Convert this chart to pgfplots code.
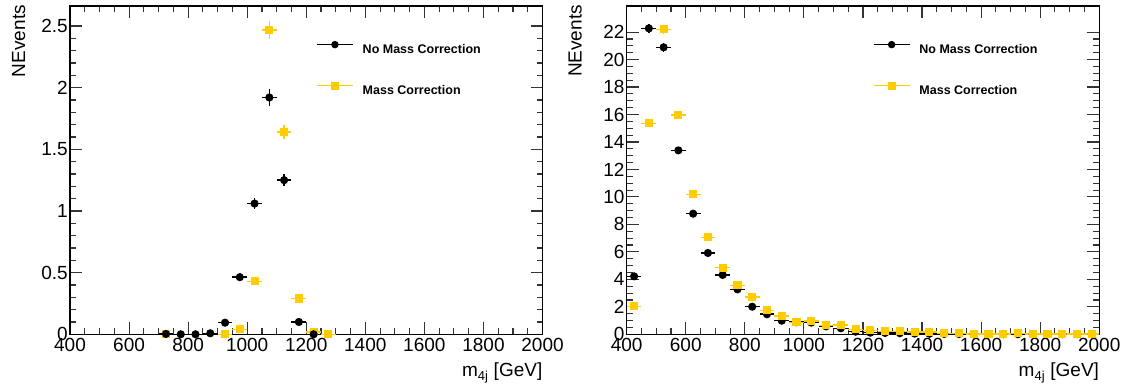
\documentclass[border=0pt]{standalone}
\usepackage{fontspec}
\setmainfont{Liberation Sans}
\usepackage{pgfplots}
\usepackage{pgfplotstable}
\pgfplotsset{compat=1.18}
\definecolor{rootyellow}{RGB}{255,204,0}

\pgfplotstableread{
x y ex ey
725 0.003 25 0.003
775 0.0 25 0.0
825 0.0 25 0.0
875 0.008 25 0.006
925 0.094 25 0.015
975 0.463 25 0.03
1025 1.06 25 0.045
1075 1.92 25 0.065
1125 1.25 25 0.05
1175 0.10 25 0.015
1225 0.0 25 0.0
}\leftblack

\pgfplotstableread{
x y ex ey
725 0.0 25 0.0
925 0.0 25 0.004
975 0.04 25 0.01
1025 0.43 25 0.03
1075 2.467 25 0.075
1125 1.64 25 0.06
1175 0.29 25 0.025
1225 0.02 25 0.008
1275 0.0 25 0.003
}\leftyellow

\pgfplotstableread{
x y ex ey
425 4.22 25 0.15
475 22.27 25 0.34
525 20.89 25 0.32
575 13.39 25 0.27
625 8.78 25 0.2
675 5.92 25 0.17
725 4.32 25 0.15
775 3.27 25 0.13
825 2.01 25 0.1
875 1.46 25 0.09
925 0.99 25 0.07
975 0.88 25 0.07
1025 0.85 25 0.07
1075 0.58 25 0.05
1125 0.44 25 0.05
1175 0.19 25 0.03
1225 0.12 25 0.03
1275 0.10 25 0.02
1325 0.08 25 0.02
1375 0.05 25 0.02
1425 0.04 25 0.02
1475 0.03 25 0.01
1525 0.02 25 0.01
1575 0.01 25 0.01
1625 0.01 25 0.01
1675 0.01 25 0.01
1725 0.01 25 0.01
1775 0.01 25 0.01
1825 0.01 25 0.01
1875 0.01 25 0.01
1925 0.01 25 0.01
1975 0.01 25 0.01
}\rightblack

\pgfplotstableread{
x y ex ey
425 2.04 25 0.1
475 15.36 25 0.28
525 22.2 25 0.33
575 15.96 25 0.28
625 10.19 25 0.22
675 7.06 25 0.19
725 4.85 25 0.15
775 3.57 25 0.13
825 2.71 25 0.11
875 1.75 25 0.09
925 1.33 25 0.08
975 0.87 25 0.07
1025 0.95 25 0.07
1075 0.65 25 0.06
1125 0.68 25 0.06
1175 0.36 25 0.04
1225 0.29 25 0.04
1275 0.22 25 0.03
1325 0.22 25 0.03
1375 0.15 25 0.03
1425 0.15 25 0.03
1475 0.07 25 0.02
1525 0.07 25 0.02
1575 0.01 25 0.01
1625 0.02 25 0.01
1675 0.02 25 0.01
1725 0.07 25 0.02
1775 0.02 25 0.01
1825 0.02 25 0.01
1875 0.02 25 0.01
1925 0.02 25 0.01
1975 0.02 25 0.01
}\rightyellow

\pgfplotsset{
  rootstyle/.style={
    scale only axis,
    width=472.5pt, height=328.3pt,
    anchor=south west,
    xmin=400, xmax=2000,
    xtick={400,600,...,2000},
    minor x tick num=3,
    major tick length=12pt,
    minor tick length=6pt,
    tick align=inside,
    axis line style={line width=1.2pt},
    every tick/.style={line width=1.1pt, black!80},
    /pgf/number format/assume math mode=true,
    /pgf/number format/1000 sep={},
    tick label style={font=\fontsize{19}{22}\selectfont},
    xticklabel style={inner sep=1pt, yshift=-3pt},
    yticklabel style={inner sep=2pt},
    xlabel={m$_{\mbox{\fontsize{13}{14}\selectfont 4j}}$ [GeV]},
    ylabel={NEvents},
    every axis x label/.style={at={(axis description cs:1,0)}, anchor=base east, inner sep=0pt, yshift=-42.7pt, font=\fontsize{19}{22}\selectfont},
    every axis y label/.style={at={(axis description cs:0,1)}, anchor=base east, rotate=90, inner sep=0pt, xshift=1pt, yshift=45pt, font=\fontsize{19}{22}\selectfont},
    clip=false,
    legend style={draw=none, fill=none, font=\fontsize{12.5}{14}\selectfont\bfseries,
      anchor=north west, row sep=25.5pt, column sep=7pt, inner sep=0pt,
      nodes={inner sep=2pt}},
    legend cell align=left,
    legend image code/.code={\draw[#1, sharp plot, line width=1.6pt, mark repeat=2, mark phase=2, mark options={line width=0.8pt}] plot coordinates {(0pt,5pt) (18pt,5pt) (36pt,5pt)};},
    blk/.style={black, mark=*, mark size=3.3pt, line width=1.5pt, only marks, mark options={fill=black, draw=black},
      error bars/x dir=both, error bars/x explicit, error bars/y dir=both, error bars/y explicit, error bars/error mark=none,
      error bars/error bar style={line width=1.5pt, black}},
    ylw/.style={rootyellow, mark=square*, mark size=3.3pt, line width=1.5pt, only marks, mark options={fill=rootyellow, draw=rootyellow},
      error bars/x dir=both, error bars/x explicit, error bars/y dir=both, error bars/y explicit, error bars/error mark=none,
      error bars/error bar style={line width=1.5pt, rootyellow}},
  }
}

\begin{document}
\begin{tikzpicture}[x=1pt,y=1pt]
\useasboundingbox (0,0) rectangle (1138,387);
\begin{axis}[rootstyle,
  at={(70pt,52.7pt)},
  ymin=0, ymax=2.662,
  ytick={0,0.5,...,2.5},
  minor y tick num=4,
  legend style={at={(axis description cs:0.5205,0.893)}},
]
\addplot[ylw, forget plot] table[x=x, y=y, x error=ex, y error=ey] {\leftyellow};
\addplot[blk] table[x=x, y=y, x error=ex, y error=ey] {\leftblack};
\addlegendentry{No Mass Correction}
\addlegendimage{rootyellow, mark=square*, mark size=3.3pt, line width=1.5pt, mark options={fill=rootyellow, draw=rootyellow}}
\addlegendentry{Mass Correction}
\end{axis}

\begin{axis}[rootstyle,
  at={(626.7pt,52.7pt)},
  ymin=0, ymax=23.9,
  ytick={0,2,...,22},
  minor y tick num=3,
  legend style={at={(axis description cs:0.5205,0.893)}},
]
\addplot[blk] table[x=x, y=y, x error=ex, y error=ey] {\rightblack};
\addlegendentry{No Mass Correction}
\addplot[ylw] table[x=x, y=y, x error=ex, y error=ey] {\rightyellow};
\addlegendentry{Mass Correction}
\end{axis}
\end{tikzpicture}
\end{document}
